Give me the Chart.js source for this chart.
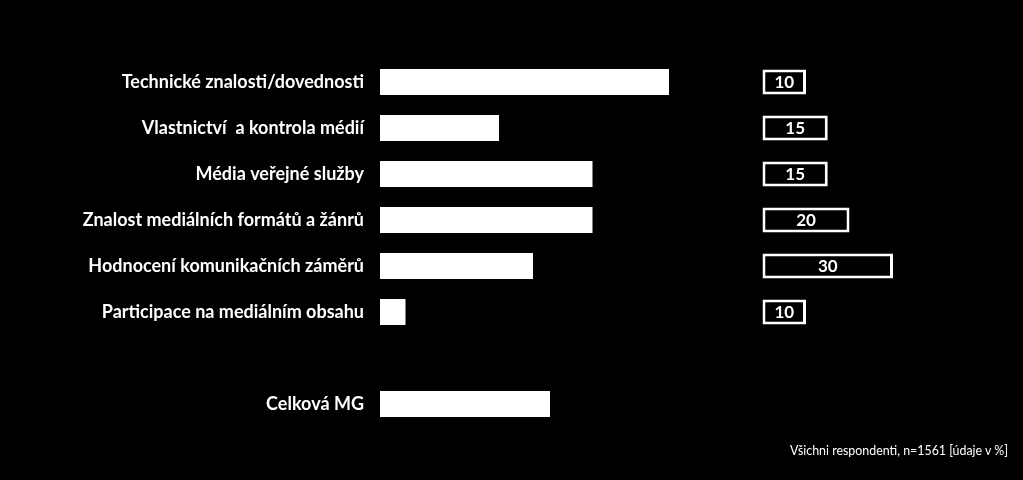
<!DOCTYPE html>
<html>
<head>
<meta charset="utf-8">
<script src="https://cdn.jsdelivr.net/npm/chart.js@4"></script>
<style>
  html, body { margin: 0; padding: 0; background: #000; }
  #wrap { position: relative; width: 1023px; height: 480px; }
  #note { position: absolute; right: 15px; top: 443px; color: #fff; font: 12.4px Lato, sans-serif; white-space: nowrap; }
</style>
</head>
<body>
<div id="wrap">
  <canvas id="c" width="1023" height="480"></canvas>
  <div id="note">Všichni respondenti, n=1561 [údaje v %]</div>
</div>
<script>
const categories = [
  "Technické znalosti/dovednosti",
  "Vlastnictví  a kontrola médií",
  "Média veřejné služby",
  "Znalost mediálních formátů a žánrů",
  "Hodnocení komunikačních záměrů",
  "Participace na mediálním obsahu",
  "",
  "Celková MG"
];
const mainValues = [68, 28, 50, 50, 36, 6, null, 40];
const boxValues  = [10, 15, 15, 20, 30, 10, null, null];

const PX_MAIN = 4.25, PX_BOX = 4.35;
const AREA_LEFT = 380, AREA_RIGHT = 1010, BOX_LEFT = 762.5;
const xMax = (AREA_RIGHT - AREA_LEFT) / PX_MAIN;
const x2Min = -(BOX_LEFT - AREA_LEFT) / PX_BOX;
const x2Max = (AREA_RIGHT - BOX_LEFT) / PX_BOX;

const boxLabels = {
  id: 'boxLabels',
  afterDatasetsDraw(chart) {
    const meta = chart.getDatasetMeta(1);
    const ctx = chart.ctx;
    ctx.save();
    ctx.fillStyle = '#fff';
    ctx.font = 'bold 17px Lato, sans-serif';
    ctx.textAlign = 'center';
    ctx.textBaseline = 'middle';
    meta.data.forEach((el, i) => {
      const v = chart.data.datasets[1].data[i];
      if (v == null) return;
      const p = el.getProps(['x', 'y', 'base'], true);
      ctx.fillText(String(v), (p.x + p.base) / 2, p.y + 1);
    });
    ctx.restore();
  }
};

new Chart(document.getElementById('c'), {
  type: 'bar',
  data: {
    labels: categories,
    datasets: [
      {
        data: mainValues,
        xAxisID: 'x',
        backgroundColor: '#fff',
        borderWidth: 0,
        grouped: false,
        barPercentage: 1,
        categoryPercentage: 0.565
      },
      {
        data: boxValues,
        xAxisID: 'x2',
        backgroundColor: '#000',
        borderColor: '#fff',
        borderWidth: 3,
        borderSkipped: false,
        grouped: false,
        barPercentage: 1,
        categoryPercentage: 0.545
      }
    ]
  },
  options: {
    indexAxis: 'y',
    responsive: false,
    animation: false,
    layout: { padding: { top: 59, bottom: 53, left: 0, right: 1023 - AREA_RIGHT } },
    plugins: { legend: { display: false }, tooltip: { enabled: false } },
    scales: {
      x: { display: false, min: 0, max: xMax },
      x2: { display: false, min: x2Min, max: x2Max },
      y: {
        position: 'left',
        grid: { display: false, drawTicks: false },
        border: { display: false },
        afterFit(scale) { scale.width = AREA_LEFT; },
        ticks: {
          color: '#fff',
          padding: 16,
          font: { family: 'Lato, sans-serif', weight: 'bold', size: 18 }
        }
      }
    }
  },
  plugins: [boxLabels]
});
</script>
</body>
</html>
